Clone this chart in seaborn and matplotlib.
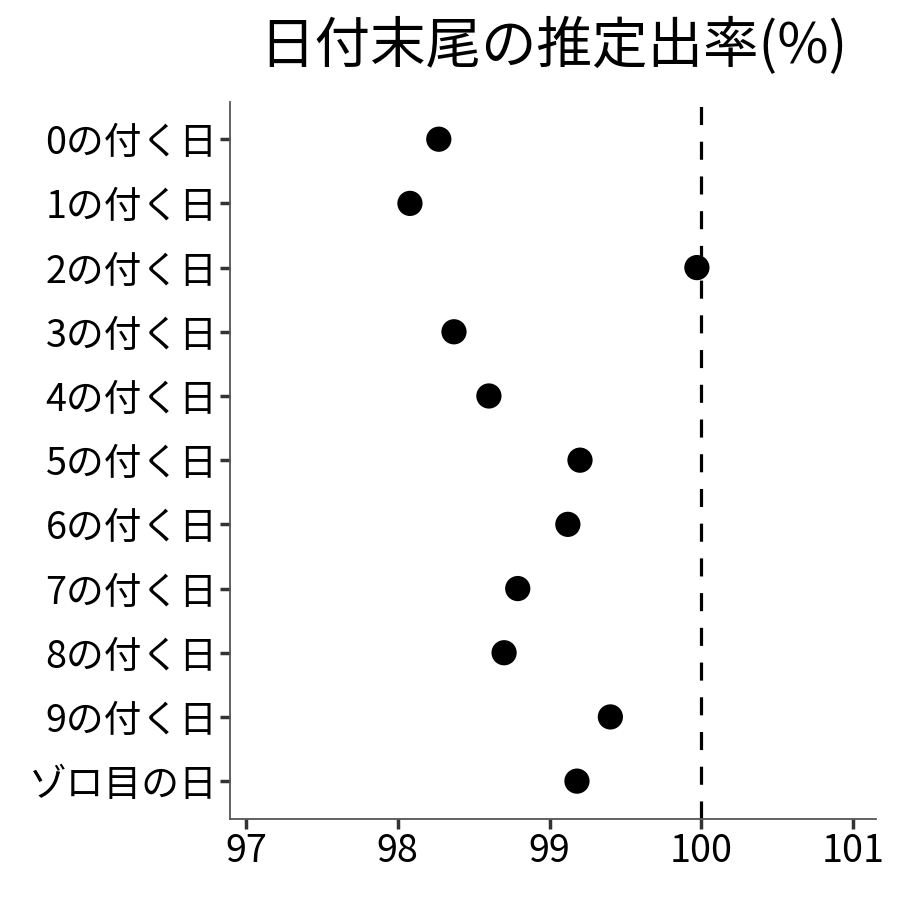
import matplotlib
matplotlib.use("Agg")
import matplotlib.pyplot as plt
import seaborn as sns
import pandas as pd

categories = ["0の付く日", "1の付く日", "2の付く日", "3の付く日", "4の付く日",
              "5の付く日", "6の付く日", "7の付く日", "8の付く日", "9の付く日", "ゾロ目の日"]
rates = [98.27, 98.08, 99.97, 98.37, 98.60, 99.20, 99.12, 98.79, 98.70, 99.40, 99.18]
xticks = [97, 98, 99, 100, 101]
title = "日付末尾の推定出率(%)"

sns.set_theme(style="white")
plt.rcParams['font.family'] = ['Noto Sans CJK JP', 'DejaVu Sans']

df = pd.DataFrame({"cat": categories, "rate": rates})

fig = plt.figure(figsize=(9, 9), dpi=100)
ax = fig.add_axes([0.2556, 0.09, 0.7178, 0.7967])

lw = 2.3
ax.axvline(100, color="black", lw=lw, linestyle=(0, (13 / lw, 12 / lw)), zorder=1)
sns.scatterplot(data=df, x="rate", y="cat", ax=ax, color="black", s=330,
                edgecolor="none", zorder=3, legend=False)

ax.set_xlim(96.895, 101.15)
ax.set_ylim(10.59, -0.58)
ax.set_xticks(xticks)
ax.set_xticklabels([str(t) for t in xticks])
ax.set_xlabel("")
ax.set_ylabel("")

for s in ["top", "right"]:
    ax.spines[s].set_visible(False)
for s in ["left", "bottom"]:
    ax.spines[s].set_color("#555555")
    ax.spines[s].set_linewidth(1.3)

ax.tick_params(axis="both", which="both", length=7, width=2.5, color="#333333",
               labelsize=27.2, labelcolor="black", pad=2)
ax.tick_params(axis="x", bottom=True, pad=2)
ax.tick_params(axis="y", left=True)

fig.text(0.615, 0.948, title, ha="center", va="center", fontsize=40, color="black")

fig.savefig("out.png", dpi=100, facecolor="white")
